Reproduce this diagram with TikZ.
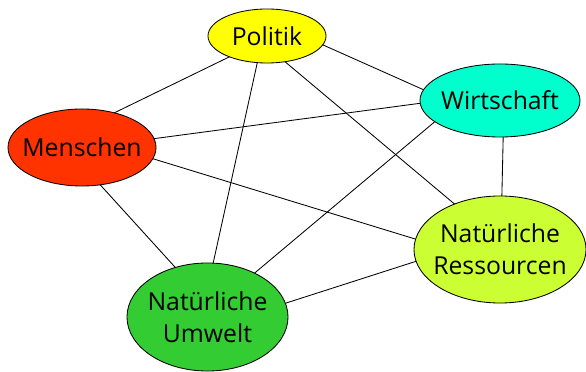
\documentclass[tikz,border=0pt]{standalone}
\usepackage{fontspec}
\setmainfont{Open Sans}
\usepackage{tikz}
\usetikzlibrary{shapes.geometric}
\definecolor{polcol}{HTML}{FFFF00}
\definecolor{wircol}{HTML}{00FFCC}
\definecolor{mencol}{HTML}{FF3300}
\definecolor{rescol}{HTML}{CCFF33}
\definecolor{umwcol}{HTML}{33CC33}
\tikzset{
  topic/.style={ellipse, draw=black, line width=0.6pt, inner xsep=-0.5cm, inner ysep=0pt, outer sep=0pt, align=center, font=\fontsize{17.6}{22.7}\selectfont},
  link/.style={draw=black, line width=0.6pt},
}

\begin{document}
\begin{tikzpicture}[x=0.025cm, y=-0.025cm]
  \useasboundingbox (0,0) rectangle (586,372);

  \node[topic, fill=polcol, minimum width=2.95cm, minimum height=1.35cm] (pol) at (267,36) {Politik};
  \node[topic, fill=wircol, minimum width=4cm, minimum height=1.825cm] (wir) at (500,100.5) {Wirtschaft};
  \node[topic, fill=mencol, minimum width=3.7cm, minimum height=1.925cm] (men) at (82,147.5) {Menschen};
  \node[topic, fill=rescol, minimum width=4.3cm, minimum height=2.675cm] (res) at (500,249.5) {Natürliche\\Ressourcen};
  \node[topic, fill=umwcol, minimum width=4.025cm, minimum height=2.7cm] (umw) at (207.5,317) {Natürliche\\Umwelt};

  % every topic is linked to every other one
  \draw[link] (pol.209) -- (men.47);
  \draw[link] (pol.250) -- (umw.84);
  \draw[link] (pol.305) -- (res.135);
  \draw[link] (pol.351) -- (wir.172);
  \draw[link] (men.7) -- (wir.182);
  \draw[link] (men.351) -- (res.173);
  \draw[link] (men.296) -- (umw.123);
  \draw[link] (wir.198) -- (umw.43);
  \draw[link] (wir.275) -- (res.88);
  \draw[link] (umw.10) -- (res.188);
\end{tikzpicture}
\end{document}
